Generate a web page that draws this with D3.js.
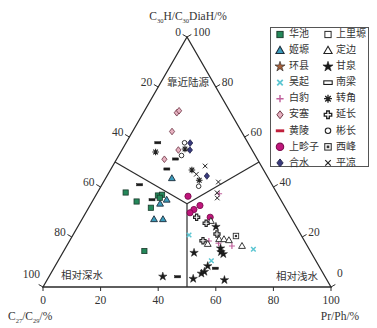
<!DOCTYPE html>
<html><head><meta charset="utf-8">
<script src="https://cdn.jsdelivr.net/npm/d3@7"></script>
<style>body{margin:0;background:#fff}svg{display:block}</style>
</head><body><svg id="c" width="377" height="328"></svg>
<script>
// Each point: [Pr/Ph %, C30H/C30DiaH %]; C27/C29 % = 100 - the two.
const huachi    = [[9.8,37.8],[15.4,34.2],[21.6,36.6],[22.9,36.9],[22.7,35.7],[21.6,31.7],[28.0,14.4]];
const jiyuan    = [[23.0,43.5],[25.5,34.9],[24.0,33.3],[25.0,27.1],[28.1,27.1]];
const huanxian  = [];
const wuqi      = [[40.3,20.8],[65.5,15.1],[53.2,10.5]];
const baibao    = [[42.5,37.3],[48.4,18.4],[52.2,17.5],[57.4,16.4]];
const ansai     = [[11.6,69.7],[12.0,70.5],[13.7,62.2],[19.6,54.8],[16.6,51.1]];
const huangling = [];
const shangzhenzi = [[32.2,36.3],[36.9,31.0],[38.2,32.6],[36.2,29.7],[44.1,27.9]];
const heshui    = [[22.3,57.6],[23.6,54.8],[34.7,44.4]];
const shangliyuan = [];
const dingbian  = [[45.1,26.4],[51.6,19.1],[53.3,19.1],[55.2,18.7],[48.6,17.2],[60.9,16.4]];
const ganquan   = [[39.5,4.2],[45.6,13.7],[50.5,3.3],[53.0,8.4],[53.0,6.1],[52.3,5.4],[53.9,15.5],[54.8,14.0],[56.0,13.2],[48.0,24.1],[61.6,2.8]];
const nanliang  = [[11.0,57.7],[20.4,51.2],[19.4,47.2],[13.1,40.9],[20.4,34.9],[44.7,4.1],[56.1,7.5]];
const zhuanjiao = [[12.1,54.0],[21.7,55.2],[28.3,46.8],[32.9,42.7]];
const yanchang  = [[39.4,27.9],[43.9,25.5],[49.8,21.2],[46.3,18.5]];
const binchang  = [[20.3,57.7],[21.8,52.6],[33.9,40.3]];
const xifeng    = [[56.8,20.4]];
const pingliang = [[32.1,48.4],[30.7,45.1],[39.9,42.0],[41.6,37.7],[42.7,35.6]];

const seriesNames = ["华池","姬塬","环县","吴起","白豹","安塞","黄陵","上畛子","合水",
                     "上里塬","定边","甘泉","南梁","转角","延长","彬长","西峰","平凉"];
const seriesValues = [huachi,jiyuan,huanxian,wuqi,baibao,ansai,huangling,shangzhenzi,heshui,
                      shangliyuan,dingbian,ganquan,nanliang,zhuanjiao,yanchang,binchang,xifeng,pingliang];
const tickValues = [0,20,40,60,80,100];
const zoneLabels = ["靠近陆源","相对深水","相对浅水"];

const styles = {
  "华池":{s:"square",fill:"#24885a",stroke:"#1b3a2c"},
  "姬塬":{s:"tri",fill:"#3b9cbc",stroke:"#1d2c3a"},
  "环县":{s:"star",fill:"#a5603c",stroke:"#222"},
  "吴起":{s:"times",fill:"none",stroke:"#5cc6d2",w:1.5},
  "白豹":{s:"plus",fill:"none",stroke:"#c0609c",w:1.2},
  "安塞":{s:"diamond",fill:"#e6b1c0",stroke:"#6a3040"},
  "黄陵":{s:"dash",fill:"#c0203c",stroke:"#c0203c"},
  "上畛子":{s:"circle",fill:"#c0167c",stroke:"#7a0c4c",r:3.1},
  "合水":{s:"diamond",fill:"#393a7c",stroke:"#22234a"},
  "上里塬":{s:"square",fill:"#fff",stroke:"#222"},
  "定边":{s:"tri",fill:"#fff",stroke:"#222"},
  "甘泉":{s:"star",fill:"#1a1a1a",stroke:"#1a1a1a"},
  "南梁":{s:"hrect",fill:"#fff",stroke:"#1a1a1a"},
  "转角":{s:"aster",fill:"none",stroke:"#222",w:1.1},
  "延长":{s:"bplus",fill:"#fff",stroke:"#222"},
  "彬长":{s:"circle",fill:"#fff",stroke:"#222",r:2.3},
  "西峰":{s:"sqdot",fill:"#fff",stroke:"#333"},
  "平凉":{s:"times",fill:"none",stroke:"#222",w:1.0}
};

const svg = d3.select("#c");
const X0 = 43, X1 = 331, Yb = 287, Yt = 37;
const xs = d3.scaleLinear().domain([0,100]).range([X0,X1]);
const cs = d3.scaleLinear().domain([0,100]).range([Yb,Yt]);
const pos = (b,c) => [xs(b + c/2), cs(c)];

const ink = "#2a2a2a";
const serif = "'Liberation Serif','DejaVu Serif',serif";
const cjk = "'Noto Sans CJK SC','Noto Sans',sans-serif";

// triangle
const tri = [pos(0,0),pos(100,0),pos(0,100)];
svg.append("path").attr("d","M"+tri.map(p=>p.join(",")).join("L")+"Z")
  .attr("fill","none").attr("stroke",ink).attr("stroke-width",1.3);

// internal division lines
const cen = pos(100/3,100/3);
[[0,50],[50,50],[50,0]].forEach(m=>{
  const p = pos(m[0],m[1]);
  svg.append("line").attr("x1",cen[0]).attr("y1",cen[1]).attr("x2",p[0]).attr("y2",p[1])
    .attr("stroke",ink).attr("stroke-width",1.2);
});

// ticks
const tl = 5;
tickValues.forEach(v=>{
  let p = pos(0,100-v);
  let d = [-0.866,-0.5];
  svg.append("line").attr("x1",p[0]).attr("y1",p[1]).attr("x2",p[0]+d[0]*tl).attr("y2",p[1]+d[1]*tl)
    .attr("stroke",ink).attr("stroke-width",1);
  let ly = p[1]-3.5 + (v===100?-8:0);
  svg.append("text").attr("x",p[0]-6+(v===100?3:0)).attr("y",ly).attr("text-anchor","end")
    .attr("dominant-baseline","middle").attr("font-family",serif).attr("font-size",11.5).attr("fill","#333").text(v);
  p = pos(100-v,v);
  d = [0.866,-0.5];
  svg.append("line").attr("x1",p[0]).attr("y1",p[1]).attr("x2",p[0]+d[0]*tl).attr("y2",p[1]+d[1]*tl)
    .attr("stroke",ink).attr("stroke-width",1);
  ly = p[1]-3.5 + (v===0?-9:0);
  svg.append("text").attr("x",p[0]+6).attr("y",ly).attr("text-anchor","start")
    .attr("dominant-baseline","middle").attr("font-family",serif).attr("font-size",11.5).attr("fill","#333").text(v);
  p = pos(v,0);
  svg.append("line").attr("x1",p[0]).attr("y1",p[1]).attr("x2",p[0]).attr("y2",p[1]+4)
    .attr("stroke",ink).attr("stroke-width",1);
  svg.append("text").attr("x",p[0]).attr("y",p[1]+14).attr("text-anchor","middle")
    .attr("dominant-baseline","middle").attr("font-family",serif).attr("font-size",11.5).attr("fill","#333").text(v);
});

// axis titles
function subTitle(x,y,anchor,parts){
  const t = svg.append("text").attr("x",x).attr("y",y).attr("text-anchor",anchor)
    .attr("font-family",serif).attr("font-size",11.5).attr("fill","#333");
  let sub=false;
  parts.forEach(pt=>{
    const isSub = pt[1];
    const ts = t.append("tspan").text(pt[0]);
    if(isSub && !sub){ts.attr("dy",3).attr("font-size",6.5);}
    else if(isSub){ts.attr("font-size",6.5);}
    else if(!isSub && sub){ts.attr("dy",-3);}
    sub=isSub;
  });
}
subTitle(188,20,"middle",[["C",0],["30",1],["H/C",0],["30",1],["DiaH/%",0]]);
subTitle(8,320,"start",[["C",0],["27",1],["/C",0],["29",1],["/%",0]]);
subTitle(340,320,"middle",[["Pr/Ph/%",0]]);

// zone labels
const zl = [[188,83],[82,276],[297,277]];
zoneLabels.forEach((s,i)=>{
  svg.append("text").attr("x",zl[i][0]).attr("y",zl[i][1]).attr("text-anchor","middle")
    .attr("dominant-baseline","middle").attr("font-family",cjk).attr("font-size",10.5).attr("fill","#333").text(s);
});

// symbol drawing
function drawSym(g,name,x,y,scale,inLegend){
  const st = styles[name]; const k = scale||1;
  const gg = g.append("g").attr("transform",`translate(${x},${y}) scale(${k})`);
  const sw = st.w||1;
  switch(st.s){
    case "square": gg.append("rect").attr("x",-2.6).attr("y",-2.6).attr("width",5.2).attr("height",5.2)
      .attr("fill",st.fill).attr("stroke",st.stroke).attr("stroke-width",0.8); break;
    case "tri": gg.append("path").attr("d","M0,-3.5L3.4,2.4L-3.4,2.4Z")
      .attr("fill",st.fill).attr("stroke",st.stroke).attr("stroke-width",0.9); break;
    case "star": gg.append("path").attr("d",d3.symbol(d3.symbolStar,22)())
      .attr("fill",st.fill).attr("stroke",st.stroke).attr("stroke-width",0.5); break;
    case "times": gg.append("path").attr("d","M-2.3,-2.3L2.3,2.3M2.3,-2.3L-2.3,2.3")
      .attr("fill","none").attr("stroke",st.stroke).attr("stroke-width",sw); break;
    case "plus": gg.append("path").attr("d","M-3,0H3M0,-3V3")
      .attr("fill","none").attr("stroke",st.stroke).attr("stroke-width",sw); break;
    case "diamond": gg.append("path").attr("d","M0,-3.3L2.6,0L0,3.3L-2.6,0Z")
      .attr("fill",st.fill).attr("stroke",st.stroke).attr("stroke-width",0.8); break;
    case "dash": gg.append("rect").attr("x",-3.5).attr("y",-1.2).attr("width",7).attr("height",2.4)
      .attr("fill",st.fill); break;
    case "circle": gg.append("circle").attr("r",st.r)
      .attr("fill",st.fill).attr("stroke",st.stroke).attr("stroke-width",0.9); break;
    case "hrect":
      if(inLegend){
        gg.append("rect").attr("x",-3.5).attr("y",-1.5).attr("width",7).attr("height",3)
          .attr("fill",st.fill).attr("stroke",st.stroke).attr("stroke-width",0.9);
      } else {
        gg.append("rect").attr("x",-3).attr("y",-1.1).attr("width",6).attr("height",2.2)
          .attr("fill",st.stroke).attr("stroke",st.stroke).attr("stroke-width",0.5);
      } break;
    case "aster": gg.append("path").attr("d","M0,-3.3V3.3M-3.3,0H3.3M-2.3,-2.3L2.3,2.3M2.3,-2.3L-2.3,2.3")
      .attr("fill","none").attr("stroke",st.stroke).attr("stroke-width",sw); break;
    case "bplus": gg.append("path").attr("d","M-1.1,-3.1H1.1V-1.1H3.1V1.1H1.1V3.1H-1.1V1.1H-3.1V-1.1H-1.1Z")
      .attr("fill",st.fill).attr("stroke",st.stroke).attr("stroke-width",1.1); break;
    case "sqdot":
      gg.append("rect").attr("x",-2.7).attr("y",-2.7).attr("width",5.4).attr("height",5.4)
        .attr("fill",st.fill).attr("stroke",st.stroke).attr("stroke-width",0.9);
      gg.append("rect").attr("x",-1.1).attr("y",-1.1).attr("width",2.2).attr("height",2.2).attr("fill",st.stroke); break;
  }
}

// points
const pg = svg.append("g");
seriesNames.forEach((n,i)=>{
  seriesValues[i].forEach(v=>{
    const p = pos(v[0],v[1]);
    drawSym(pg,n,p[0],p[1],1,false);
  });
});

// legend
const lg = svg.append("g");
lg.append("rect").attr("x",270.5).attr("y",27.5).attr("width",98).attr("height",139)
  .attr("fill","#fff").attr("stroke","#555").attr("stroke-width",1);
seriesNames.forEach((n,i)=>{
  const col = i<9?0:1, row = i%9;
  const y = 34.5 + row*16.05;
  const sx = col===0?280:328, tx = col===0?289:336;
  drawSym(lg,n,sx,y,1.2,true);
  lg.append("text").attr("x",tx).attr("y",y).attr("dominant-baseline","middle")
    .attr("font-family",cjk).attr("font-size",10).attr("fill","#333").text(n);
});
</script></body></html>
